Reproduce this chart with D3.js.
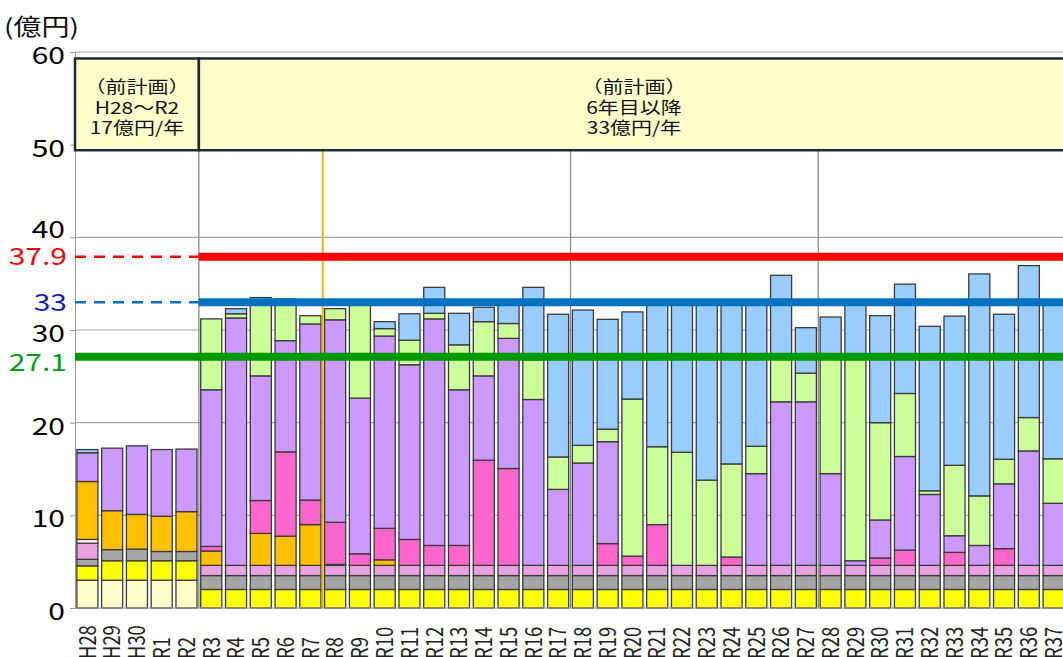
<!DOCTYPE html>
<html>
<head>
<meta charset="utf-8">
<script src="https://cdn.jsdelivr.net/npm/d3@7"></script>
<style>
  body { margin: 0; background: #fff; }
  text { font-family: "Noto Sans CJK JP", "Noto Sans", sans-serif; font-weight: 400; }
  .domain { stroke: #999; }
</style>
</head>
<body>
<svg width="1063" height="657"></svg>
<script>
// category labels
var years = ["H28","H29","H30","R1","R2","R3","R4","R5","R6","R7","R8","R9","R10",
  "R11","R12","R13","R14","R15","R16","R17","R18","R19","R20","R21","R22","R23",
  "R24","R25","R26","R27","R28","R29","R30","R31","R32","R33","R34","R35","R36","R37"];

// stacked series, bottom to top (億円)
var cream  = [3.0,3.0,3.0,3.0,3.0, 0,0,0,0,0,0,0,0,0,0,0,0,0,0,0,0,0,0,0,0,0,0,0,0,0,0,0,0,0,0,0,0,0,0,0];
var yellow = [1.55,2.1,2.1,2.1,2.1, 2,2,2,2,2,2,2,2,2,2,2,2,2,2,2,2,2,2,2,2,2,2,2,2,2,2,2,2,2,2,2,2,2,2,2];
var gray   = [0.7,1.2,1.25,1.0,1.0, 1.5,1.5,1.5,1.5,1.5,1.5,1.5,1.5,1.5,1.5,1.5,1.5,1.5,1.5,1.5,1.5,1.5,1.5,1.5,1.5,
              1.5,1.5,1.5,1.5,1.5,1.5,1.5,1.5,1.5,1.5,1.5,1.5,1.5,1.5,1.5];
var plum   = [1.75,0,0,0,0, 1.1,1.1,1.1,1.1,1.1,1.1,1.1,1.1,1.1,1.1,1.1,1.1,1.1,1.1,1.1,1.1,1.1,1.1,1.1,1.1,
              1.1,1.1,1.1,1.1,1.1,1.1,1.1,1.1,1.1,1.1,1.1,1.1,1.1,1.1,1.1];
var white  = [0.4,0,0,0,0, 0,0,0,0,0,0,0,0,0,0,0,0,0,0,0,0,0,0,0,0,0,0,0,0,0,0,0,0,0,0,0,0,0,0,0];
var orange = [6.25,4.2,3.75,3.8,4.3, 1.55,0,3.45,3.15,4.4,0.1,0,0.6,0,0,0,0,0,0,0,0,0,0,0,0,0,0,0,0,0,0,0,0,0,0,0,0,0,0,0];
var pink   = [0,0,0,0,0, 0.5,0,3.55,9.1,2.65,4.55,1.25,3.4,2.8,2.15,2.15,11.35,10.45,0,0,0,2.35,1.0,4.4,0,0,
              0.9,0,0,0,0,0,0.8,1.65,0,1.4,0,1.8,0,0];
var purple = [3.1,6.75,7.4,7.2,6.75, 16.9,26.7,13.45,12.0,19.0,21.85,16.8,20.75,18.85,24.45,16.8,9.1,14.05,17.9,8.2,
              11.05,11.0,0,0,0,0,0,9.9,17.65,17.65,9.9,0.5,4.1,10.1,7.65,1.8,2.15,7.0,12.35,6.7];
var green  = [0,0,0,0,0, 7.65,0.45,8.45,4.05,0.9,1.2,10.45,0.8,2.65,0.6,4.85,5.85,1.6,4.3,3.5,1.9,1.35,16.95,8.4,
              12.2,9.2,10.05,2.95,5.05,3.1,12.4,21.9,10.5,6.8,0.4,7.6,5.35,2.65,3.6,4.8];
var blue   = [0.35,0,0,0,0, 0,0.55,0,0.45,0,0,0,0.75,2.85,2.8,3.4,1.55,2.4,7.8,15.4,14.6,11.85,9.4,15.45,16.3,19.3,
              17.6,15.7,8.6,4.9,4.5,6.1,11.55,11.8,17.75,16.1,23.95,15.65,16.4,16.8];

// reference lines
var refValues = [37.9, 33, 27.1];
var refLabels = ["37.9", "33", "27.1"];
var yTicks = [0, 10, 20, 30, 40, 50, 60];

var keys = ["cream","yellow","gray","plum","white","orange","pink","purple","green","blue"];
var colors = ["#FFFFCC","#FFFF00","#A6A6A6","#E8A3E0","#FFFFFF","#FFC000","#FF66CC","#CC99FF","#CCFF99","#99CCFF"];
var series = [cream, yellow, gray, plum, white, orange, pink, purple, green, blue];

var data = years.map(function(y, i) {
  var row = { year: y };
  keys.forEach(function(k, j) { row[k] = series[j][i]; });
  return row;
});

var svg = d3.select("svg");
var sy = 0.8; // the picture is squashed vertically; text follows it

var x = d3.scaleBand().domain(years).range([75, 1066]).paddingInner(0.15).paddingOuter(0.075);
var y = d3.scaleLinear().domain([0, 60]).range([608, 52]);
var z = d3.scaleOrdinal().domain(keys).range(colors);

function edge(i) { return x(years[i]) - x.step() * x.paddingInner() / 2; }

// horizontal gridlines
svg.append("g").selectAll("line")
  .data(yTicks.slice(1))
  .enter().append("line")
    .attr("x1", 75).attr("x2", 1063)
    .attr("y1", function(d) { return y(d); })
    .attr("y2", function(d) { return y(d); })
    .attr("stroke", "#a6a6a6").attr("stroke-width", 1.2);

// vertical dividers
svg.append("g").selectAll("line")
  .data([5, 20, 30])
  .enter().append("line")
    .attr("x1", function(d) { return edge(d); })
    .attr("x2", function(d) { return edge(d); })
    .attr("y1", y(49.4)).attr("y2", y(0))
    .attr("stroke", "#888").attr("stroke-width", 1.3);

// bars
svg.append("g")
  .selectAll("g")
  .data(d3.stack().keys(keys)(data))
  .enter().append("g")
    .attr("fill", function(d) { return z(d.key); })
  .selectAll("rect")
  .data(function(d) { return d.filter(function(s) { return s[1] - s[0] > 0; }); })
  .enter().append("rect")
    .attr("x", function(d) { return x(d.data.year); })
    .attr("y", function(d) { return y(d[1]); })
    .attr("height", function(d) { return y(d[0]) - y(d[1]); })
    .attr("width", x.bandwidth())
    .attr("stroke", "#3b3b3b")
    .attr("stroke-width", 1.3);

// orange divider between R7 and R8
svg.append("line")
  .attr("x1", edge(10)).attr("x2", edge(10))
  .attr("y1", y(49.4)).attr("y2", y(0))
  .attr("stroke", "#F4B400").attr("stroke-width", 2);

// axes
var yAxis = svg.append("g")
  .attr("transform", "translate(75,0)")
  .call(d3.axisLeft(y).tickValues(yTicks).tickSize(5).tickSizeOuter(0));
yAxis.selectAll("line").attr("stroke", "#999");
yAxis.selectAll("text")
  .attr("x", null).attr("dy", "0.36em")
  .attr("transform", function(d) {
    // 40 sits a little higher in the source, clear of 37.9
    return "translate(-10," + (d == 40 ? -8 : 3) + ") scale(1," + sy + ")";
  })
  .attr("fill", "#000").attr("font-size", 30).attr("font-weight", 500);

var xAxis = svg.append("g")
  .attr("transform", "translate(0," + y(0) + ")")
  .call(d3.axisBottom(x).tickSize(0));
xAxis.select(".domain").attr("d", "M75,0H1063");
xAxis.selectAll("text")
  .attr("y", null).attr("dy", "0.36em")
  .attr("text-anchor", "start")
  .attr("transform", "translate(0,51) scale(1," + sy + ") rotate(-90)")
  .attr("fill", "#222").attr("font-size", 23);

// reference lines
var refColors = ["#FF0000", "#0070C0", "#009900"];
var labelColors = ["#FF0000", "#1515C8", "#009E1A"];
refValues.forEach(function(v, i) {
  var left = i == 2 ? 75 : edge(5);
  if (i < 2) {
    svg.append("line")
      .attr("x1", 75).attr("x2", edge(5))
      .attr("y1", y(v)).attr("y2", y(v))
      .attr("stroke", refColors[i]).attr("stroke-width", 2.5)
      .attr("stroke-dasharray", "11,8");
  }
  svg.append("line")
    .attr("x1", left).attr("x2", 1063)
    .attr("y1", y(v)).attr("y2", y(v))
    .attr("stroke", refColors[i]).attr("stroke-width", 8);
  svg.append("text")
    .attr("transform", "translate(67," + (y(v) + (i == 2 ? 5 : 0)) + ") scale(1," + sy + ")")
    .attr("dy", "0.36em")
    .attr("text-anchor", "end")
    .attr("font-size", 30)
    .attr("fill", labelColors[i])
    .text(refLabels[i]);
});

// plan boxes on top
var boxes = [
  { from: 0, to: 5, lines: ["（前計画）", "H28～R2", "17億円/年"] },
  { from: 5, to: 40, lines: ["（前計画）", "6年目以降", "33億円/年"] }
];
boxes.forEach(function(b) {
  var x0 = edge(b.from), x1 = b.to == 40 ? 1080 : edge(b.to);
  svg.append("rect")
    .attr("x", x0).attr("y", y(59.3))
    .attr("width", x1 - x0).attr("height", y(49.4) - y(59.3))
    .attr("fill", "#FFFFCC")
    .attr("stroke", "#1d2b38").attr("stroke-width", 2.5);
  var cx = b.to == 40 ? 634 : (x0 + x1) / 2;
  b.lines.forEach(function(t, k) {
    svg.append("text")
      .attr("transform", "translate(" + cx + "," + (87 + k * 20.5) + ") scale(1," + sy + ")")
      .attr("dy", "0.36em")
      .attr("text-anchor", "middle")
      .attr("font-size", 21)
      .attr("fill", "#111")
      .text(t);
  });
});

// unit
svg.append("text")
  .attr("transform", "translate(4,27) scale(1," + sy + ")")
  .attr("dy", "0.36em")
  .attr("font-size", 28)
  .attr("font-weight", 500)
  .attr("fill", "#111")
  .text("(億円)");
</script>
</body>
</html>
